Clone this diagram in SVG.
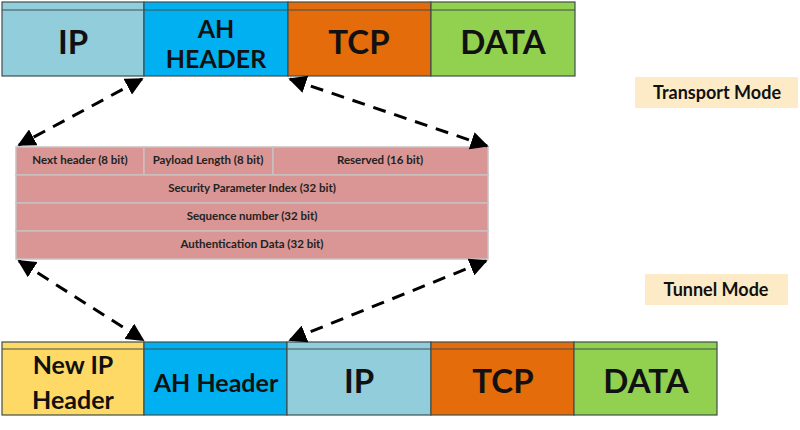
<svg xmlns="http://www.w3.org/2000/svg" width="800" height="430" viewBox="0 0 800 430">
<defs>
<style>
.box{stroke:#3f4f4f;stroke-width:1.2}
.sep{stroke:#3f4f4f;stroke-width:1}
.big{font-family:Lato,"Liberation Sans",sans-serif;font-weight:bold;fill:#111;text-anchor:middle}
.cell{fill:#d99694;stroke:#c9c0c0;stroke-width:1.5}
.small{font-family:Lato,"Liberation Sans",sans-serif;font-weight:bold;font-size:11.5px;fill:#222;text-anchor:middle}
.lab{font-family:Lato,"Liberation Sans",sans-serif;font-weight:bold;font-size:18px;fill:#111;text-anchor:middle}
.conn{stroke:#000;stroke-width:3;stroke-dasharray:13 9;fill:none;marker-start:url(#ah);marker-end:url(#ah)}
</style>
<marker id="ah" viewBox="0 0 10 10" refX="9" refY="5" markerWidth="6" markerHeight="6" orient="auto-start-reverse" markerUnits="strokeWidth">
<path d="M0,0 L10,5 L0,10 z" fill="#000"/>
</marker>
</defs>
<rect width="800" height="430" fill="#fff"/>

<g id="transport-packet">
<g id="t-ip"><rect class="box" x="2" y="2" width="142" height="74" fill="#92cddc"/><line class="sep" x1="2" y1="10" x2="144" y2="10"/><text class="big" x="73" y="54" font-size="33">IP</text></g>
<g id="t-ah"><rect class="box" x="144" y="2" width="144" height="74" fill="#00b0f0"/><line class="sep" x1="144" y1="10" x2="288" y2="10"/><text class="big" x="216" y="38" font-size="25">AH</text><text class="big" x="216" y="68" font-size="25">HEADER</text></g>
<g id="t-tcp"><rect class="box" x="288" y="2" width="143" height="74" fill="#e46c0a"/><line class="sep" x1="288" y1="10" x2="431" y2="10"/><text class="big" x="359" y="54" font-size="33">TCP</text></g>
<g id="t-data"><rect class="box" x="431" y="2" width="144" height="74" fill="#92d050"/><line class="sep" x1="431" y1="10" x2="575" y2="10"/><text class="big" x="503" y="54" font-size="33">DATA</text></g>
</g>

<g id="ah-format">
<rect class="cell" x="16" y="147" width="128" height="28"/>
<rect class="cell" x="144" y="147" width="129" height="28"/>
<rect class="cell" x="273" y="147" width="215" height="28"/>
<rect class="cell" x="16" y="175" width="472" height="28"/>
<rect class="cell" x="16" y="203" width="472" height="28"/>
<rect class="cell" x="16" y="231" width="472" height="28"/>
<text class="small" x="80" y="164">Next header (8 bit)</text>
<text class="small" x="208" y="164">Payload Length (8 bit)</text>
<text class="small" x="380" y="164">Reserved (16 bit)</text>
<text class="small" x="252" y="192">Security Parameter Index (32 bit)</text>
<text class="small" x="252" y="220">Sequence number (32 bit)</text>
<text class="small" x="252" y="248">Authentication Data (32 bit)</text>
</g>

<g id="transport-label"><rect x="635" y="77" width="163" height="31" fill="#fdebc8"/><text class="lab" x="717" y="99">Transport Mode</text></g>
<g id="tunnel-label"><rect x="645" y="274" width="143" height="31" fill="#fdebc8"/><text class="lab" x="716" y="296">Tunnel Mode</text></g>

<g id="tunnel-packet">
<g id="b-newip"><rect class="box" x="2" y="342" width="142" height="73" fill="#ffd966"/><line class="sep" x1="2" y1="349" x2="144" y2="349"/><text class="big" x="73" y="374" font-size="25">New IP</text><text class="big" x="73" y="409" font-size="25">Header</text></g>
<g id="b-ah"><rect class="box" x="144" y="342" width="143" height="73" fill="#00b0f0"/><line class="sep" x1="144" y1="349" x2="287" y2="349"/><text class="big" x="216" y="392" font-size="25">AH Header</text></g>
<g id="b-ip"><rect class="box" x="287" y="342" width="144" height="73" fill="#92cddc"/><line class="sep" x1="287" y1="349" x2="431" y2="349"/><text class="big" x="359" y="393" font-size="33">IP</text></g>
<g id="b-tcp"><rect class="box" x="431" y="342" width="143" height="73" fill="#e46c0a"/><line class="sep" x1="431" y1="349" x2="574" y2="349"/><text class="big" x="503" y="393" font-size="33">TCP</text></g>
<g id="b-data"><rect class="box" x="574" y="342" width="143" height="73" fill="#92d050"/><line class="sep" x1="574" y1="349" x2="717" y2="349"/><text class="big" x="646" y="393" font-size="33">DATA</text></g>
</g>

<g id="connectors">
<line class="conn" x1="142" y1="79" x2="19" y2="145"/>
<line class="conn" x1="290" y1="79" x2="487" y2="146"/>
<line class="conn" x1="19" y1="261" x2="143" y2="340"/>
<line class="conn" x1="486" y1="261" x2="290" y2="340"/>
</g>
</svg>
